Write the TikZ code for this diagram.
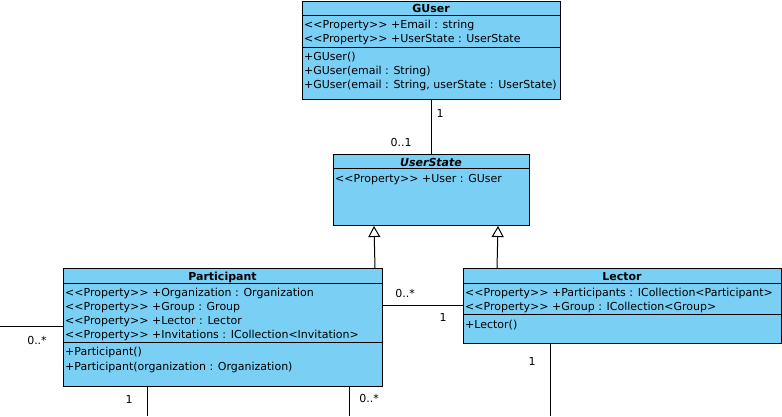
\documentclass[tikz,border=0pt]{standalone}
\usepackage{fontspec}
\setmainfont{DejaVu Sans}[Ligatures=TeXOff]
\usetikzlibrary{arrows.meta, positioning, calc}
\definecolor{classfill}{RGB}{122,207,245}

\begin{document}
\begin{tikzpicture}[
    x=1pt, y=-1pt,
    every node/.style={font=\fontsize{11}{13}\selectfont},
    classbox/.style={draw=black, fill=classfill, line width=1pt, anchor=north west, inner sep=0pt},
    classtitle/.style={inner sep=0pt, text height=8pt, text depth=0pt, font=\fontsize{11}{13}\selectfont\bfseries},
    member/.style={anchor=west, inner sep=0pt, text height=8pt, text depth=0pt},
    compsep/.style={black, line width=1pt},
    assoc/.style={black, line width=1pt},
    inherit/.style={-{Triangle[open, width=12pt, length=11pt]}, black, line width=1pt},
    mult/.style={inner sep=0pt, text height=8pt, text depth=0pt},
]

\fill[white] (0,0) rectangle (782,416);
\useasboundingbox (0,0) rectangle (782,416);

% ============================================================
% GUser
% ============================================================
\node[classbox, minimum width=258pt, minimum height=98pt] (guser) at (302,1) {};
\node[classtitle] (guser-name) at (431,8) {GUser};
\draw[compsep] (guser.west |- 0,15) -- (guser.east |- 0,15);
\node[member] (guser-a1) at (304,24) {<<Property>> +Email : string};
\node[member] (guser-a2) at (304,38) {<<Property>> +UserState : UserState};
\draw[compsep] (guser.west |- 0,47) -- (guser.east |- 0,47);
\node[member] (guser-m1) at (304,56) {+GUser()};
\node[member] (guser-m2) at (304,70) {+GUser(email : String)};
\node[member] (guser-m3) at (304,84) {+GUser(email : String, userState : UserState)};

% ============================================================
% UserState (abstract)
% ============================================================
\node[classbox, minimum width=196pt, minimum height=71pt] (userstate) at (333,154) {};
\node[classtitle, font=\fontsize{11}{13}\selectfont\bfseries\itshape] (userstate-name) at (431,162) {UserState};
\draw[compsep] (userstate.west |- 0,168) -- (userstate.east |- 0,168);
\node[member] (userstate-a1) at (335,178) {<<Property>> +User : GUser};

% ============================================================
% Participant
% ============================================================
\node[classbox, minimum width=319pt, minimum height=118pt] (participant) at (63,268) {};
\node[classtitle] (participant-name) at (222.5,276) {Participant};
\draw[compsep] (participant.west |- 0,283) -- (participant.east |- 0,283);
\node[member] (participant-a1) at (65,292) {<<Property>> +Organization : Organization};
\node[member] (participant-a2) at (65,306) {<<Property>> +Group : Group};
\node[member] (participant-a3) at (65,320) {<<Property>> +Lector : Lector};
\node[member] (participant-a4) at (65,334) {<<Property>> +Invitations : ICollection<Invitation>};
\draw[compsep] (participant.west |- 0,342) -- (participant.east |- 0,342);
\node[member] (participant-m1) at (65,351) {+Participant()};
\node[member] (participant-m2) at (65,366) {+Participant(organization : Organization)};

% ============================================================
% Lector
% ============================================================
\node[classbox, minimum width=318pt, minimum height=75pt] (lector) at (463,268) {};
\node[classtitle] (lector-name) at (622,276) {Lector};
\draw[compsep] (lector.west |- 0,283) -- (lector.east |- 0,283);
\node[member] (lector-a1) at (465,292) {<<Property>> +Participants : ICollection<Participant>};
\node[member] (lector-a2) at (465,306) {<<Property>> +Group : ICollection<Group>};
\draw[compsep] (lector.west |- 0,314) -- (lector.east |- 0,314);
\node[member] (lector-m1) at (465,324) {+Lector()};

% ============================================================
% Connectors
% ============================================================
% GUser -- UserState
\draw[assoc] (guser.south) -- (userstate.north);
\node[mult] (m-guser) at (440,113) {1};
\node[mult] (m-userstate) at (401,142) {0..1};

% generalisations
\draw[inherit] ($(participant.north east)+(-8,0)$) -- ($(userstate.south west)+(41,0)$);
\draw[inherit] ($(lector.north west)+(34,0)$) -- ($(userstate.south east)+(-32,0)$);

% Participant -- Lector
\draw[assoc] ($(participant.north east)+(0,37)$) -- ($(lector.north west)+(0,37)$);
\node[mult] (m-part-lector) at (405,293) {0..*};
\node[mult] (m-lector-part) at (443,317) {1};

% links leaving the picture
\coordinate (leftend) at (0,326);
\draw[assoc] (leftend) -- (leftend -| participant.west);
\node[mult] (m-left) at (37,340) {0..*};

\coordinate (orgend) at (147,416);
\draw[assoc] (participant.south -| orgend) -- (orgend);
\node[mult] (m-org) at (129,399) {1};

\coordinate (groupend) at (349,416);
\draw[assoc] (participant.south -| groupend) -- (groupend);
\node[mult] (m-group) at (369,398) {0..*};

\coordinate (lectorend) at (550,416);
\draw[assoc] (lector.south -| lectorend) -- (lectorend);
\node[mult] (m-lectorend) at (532,361) {1};

\end{tikzpicture}
\end{document}
